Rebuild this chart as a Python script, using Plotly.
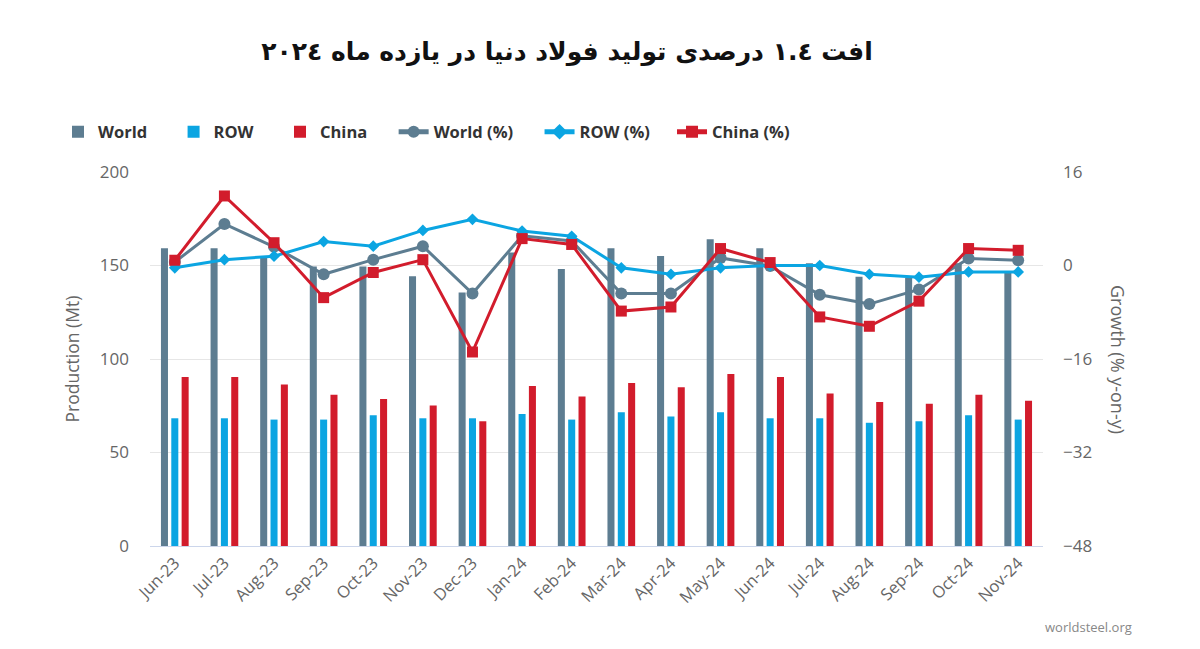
import plotly.graph_objects as go

months = ["Jun-23", "Jul-23", "Aug-23", "Sep-23", "Oct-23", "Nov-23", "Dec-23",
          "Jan-24", "Feb-24", "Mar-24", "Apr-24", "May-24", "Jun-24", "Jul-24",
          "Aug-24", "Sep-24", "Oct-24", "Nov-24"]

world_mt = [159.2, 159.2, 154.7, 149.4, 149.5, 144.2, 135.5, 156.9, 148.1,
            159.2, 155.1, 164.0, 159.2, 151.2, 144.0, 143.5, 151.2, 146.7]
row_mt = [68.3, 68.3, 67.6, 67.6, 69.9, 68.3, 68.3, 70.6, 67.6,
          71.5, 69.2, 71.5, 68.3, 68.3, 65.9, 66.7, 69.9, 67.6]
china_mt = [90.4, 90.4, 86.4, 80.9, 78.6, 75.2, 66.7, 85.6, 80.0,
            87.2, 84.9, 92.0, 90.4, 81.6, 77.0, 76.1, 80.9, 77.7]

world_pct = [0.6, 7.1, 3.2, -1.5, 1.0, 3.3, -4.8, 5.1, 4.2,
             -4.8, -4.8, 1.3, -0.1, -5.0, -6.6, -4.1, 1.2, 0.9]
row_pct = [-0.4, 1.0, 1.6, 4.1, 3.3, 6.0, 7.9, 5.9, 5.0,
           -0.4, -1.5, -0.4, 0.0, 0.0, -1.5, -2.0, -1.1, -1.1]
china_pct = [0.9, 11.9, 3.9, -5.5, -1.2, 1.0, -14.8, 4.6, 3.6,
             -7.8, -7.1, 2.9, 0.5, -8.8, -10.4, -6.1, 2.9, 2.6]

series_names = ["World", "ROW", "China", "World (%)", "ROW (%)", "China (%)"]

title_text = "افت ۱.٤ درصدی تولید فولاد دنیا در یازده ماه ۲۰۲٤"

C_WORLD = "#5d7d91"
C_ROW = "#0ba5e2"
C_CHINA = "#d21c2c"
GRAY = "#666666"
FONT = "Open Sans"
NB = "\u00a0"

# page body has an 8px margin; the figure is sized so that it fills the window
OFF = 8
W, H = 1200 - OFF, 649 - OFF
L, R, T, B = 150 - OFF, 157, 172 - OFF, 103
pw = W - L - R
ph = H - T - B

fig = go.Figure()
fig.add_trace(go.Bar(x=months, y=world_mt, name=series_names[0] + NB * 5,
                     marker_color=C_WORLD, marker_line_width=0, yaxis="y"))
fig.add_trace(go.Bar(x=months, y=row_mt, name=series_names[1] + NB * 5,
                     marker_color=C_ROW, marker_line_width=0, yaxis="y"))
fig.add_trace(go.Bar(x=months, y=china_mt, name=series_names[2] + NB * 5,
                     marker_color=C_CHINA, marker_line_width=0, yaxis="y"))
fig.add_trace(go.Scatter(x=months, y=world_pct, name=series_names[3] + NB * 5, yaxis="y2",
                         mode="lines+markers", line=dict(color=C_WORLD, width=3),
                         marker=dict(symbol="circle", size=12, color=C_WORLD)))
fig.add_trace(go.Scatter(x=months, y=row_pct, name=series_names[4] + NB * 4, yaxis="y2",
                         mode="lines+markers", line=dict(color=C_ROW, width=3),
                         marker=dict(symbol="diamond", size=9, color=C_ROW)))
fig.add_trace(go.Scatter(x=months, y=china_pct, name=series_names[5], yaxis="y2",
                         mode="lines+markers", line=dict(color=C_CHINA, width=3),
                         marker=dict(symbol="square", size=11, color=C_CHINA)))

fig.update_layout(
    width=W, height=H,
    paper_bgcolor="white", plot_bgcolor="white",
    margin=dict(l=L, r=R, t=T, b=B, autoexpand=False),
    barmode="group", bargap=0.375, bargroupgap=0.32,
    font=dict(family=FONT, color=GRAY, size=15),
    title=dict(text=title_text, x=(567 - OFF) / W, xanchor="center",
               y=1 - (51 - OFF) / H, yanchor="middle",
               font=dict(family="DejaVu Sans", size=25, color="#111111", weight="bold")),
    showlegend=True,
    legend=dict(orientation="h", x=(58 - 150) / pw, xanchor="left", y=(546 - 132) / ph,
                yanchor="middle",
                font=dict(family=FONT, size=16.5, color="#333333", weight="bold"),
                traceorder="normal", itemsizing="constant", itemwidth=30),
    xaxis=dict(type="category", range=[-0.5, len(months) - 0.5], tickangle=-45,
               showgrid=False, showline=True, linecolor="#ccd6eb",
               linewidth=1, ticks="", tickfont=dict(size=16.5, color=GRAY), automargin=False),
    yaxis=dict(range=[0, 200], dtick=50, showgrid=True, gridcolor="#e6e6e6",
               gridwidth=1, zeroline=False, ticks="", tickfont=dict(size=17, color=GRAY),
               ticklabelstandoff=20, automargin=False,
               title=dict(text="Production (Mt)", font=dict(size=17.5, color=GRAY))),
    yaxis2=dict(range=[-48, 16], dtick=16, overlaying="y", side="right", showgrid=False,
                zeroline=False, ticks="", tickfont=dict(size=17, color=GRAY),
                ticklabelstandoff=19, automargin=False),
    annotations=[
        dict(text="Growth (% y-on-y)", textangle=90, x=(1118 - 150) / pw, y=(546 - 359) / ph,
             xref="paper", yref="paper", xanchor="center", yanchor="middle",
             showarrow=False, font=dict(size=18, color=GRAY)),
        dict(text="worldsteel.org", x=(1043 - 150) / pw, y=(546 - 627) / ph, xref="paper",
             yref="paper", xanchor="left", yanchor="middle", showarrow=False,
             font=dict(size=13, color="#888888")),
    ],
)

fig.write_html("out.html")
